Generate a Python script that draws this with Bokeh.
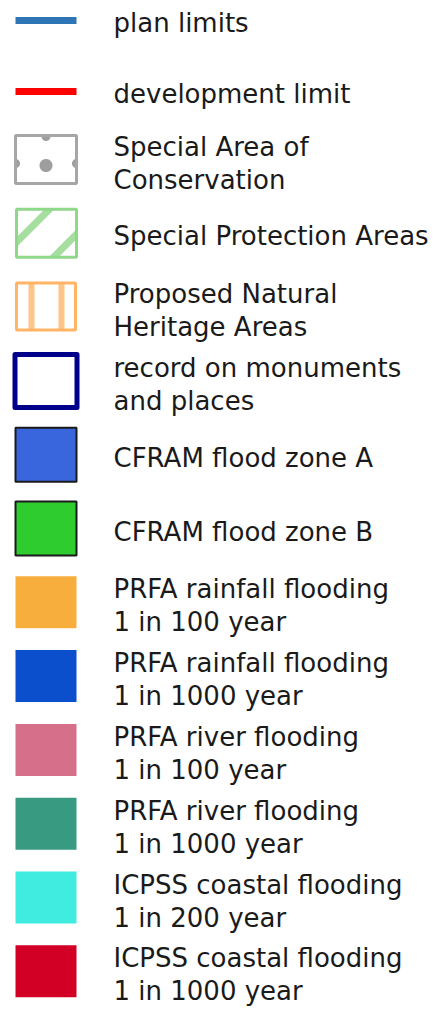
import numpy as np
from bokeh.plotting import figure
from bokeh.models import Range1d
from bokeh.embed import file_html
from bokeh.resources import INLINE
from bokeh.core.properties import value

# ---- legend content ----
labels = [
    ["plan limits"],
    ["development limit"],
    ["Special Area of", "Conservation"],
    ["Special Protection Areas"],
    ["Proposed Natural", "Heritage Areas"],
    ["record on monuments", "and places"],
    ["CFRAM flood zone A"],
    ["CFRAM flood zone B"],
    ["PRFA rainfall flooding", "1 in 100 year"],
    ["PRFA rainfall flooding", "1 in 1000 year"],
    ["PRFA river flooding", "1 in 100 year"],
    ["PRFA river flooding", "1 in 1000 year"],
    ["ICPSS coastal flooding", "1 in 200 year"],
    ["ICPSS coastal flooding", "1 in 1000 year"],
]
kinds = ["line", "line", "sac", "spa", "pnha", "rmp", "outlined", "outlined",
         "fill", "fill", "fill", "fill", "fill", "fill"]
colors = ["#2e75b6", "#ff0000", "#a6a6a6", "#8fd88a", "#ffb466", "#00008b",
          "#3a66dd", "#2ecc2e", "#f8ae3c", "#0b4fcc", "#d6708a", "#389a80",
          "#40ece0", "#d10024"]

# ---- layout ----
W, H = 438, 1011
p = figure(width=W, height=H, output_backend="svg", toolbar_location=None,
           x_range=Range1d(0, W), y_range=Range1d(H, 0),
           min_border=0, background_fill_color="white", border_fill_color="white")
p.axis.visible = False
p.grid.visible = False
p.outline_line_color = None


def row_y(i):
    return 20 + 71 * i if i < 2 else 159 + 73.8 * (i - 2)


def clip(poly, x0, x1, y0, y1):
    def edge(pts, inside, inter):
        out = []
        for k in range(len(pts)):
            cur, prev = pts[k], pts[k - 1]
            if inside(cur):
                if not inside(prev):
                    out.append(inter(prev, cur))
                out.append(cur)
            elif inside(prev):
                out.append(inter(prev, cur))
        return out

    def ix(xc):
        return lambda a, b: (xc, a[1] + (b[1] - a[1]) * (xc - a[0]) / (b[0] - a[0]))

    def iy(yc):
        return lambda a, b: (a[0] + (b[0] - a[0]) * (yc - a[1]) / (b[1] - a[1]), yc)

    pts = list(poly)
    pts = edge(pts, lambda q: q[0] >= x0, ix(x0))
    pts = edge(pts, lambda q: q[0] <= x1, ix(x1))
    pts = edge(pts, lambda q: q[1] >= y0, iy(y0))
    pts = edge(pts, lambda q: q[1] <= y1, iy(y1))
    return pts


def circle_poly(cx, cy, r, n=48):
    t = np.linspace(0, 2 * np.pi, n, endpoint=False)
    return list(zip(cx + r * np.cos(t), cy + r * np.sin(t)))


def draw_poly(pts, color):
    if len(pts) >= 3:
        p.patch([q[0] for q in pts], [q[1] for q in pts], fill_color=color,
                line_color=None)


BX0, BX1 = 15, 76
TEXT_X = 113
LINE_GAP = 33
SHIFT = -10

tx, ty, tt = [], [], []
for i, (lab, kind, col) in enumerate(zip(labels, kinds, colors)):
    c = row_y(i)
    if kind == "line":
        p.line([BX0, BX1], [c, c], line_color=col, line_width=7)
    elif kind == "sac":
        y0, y1 = c - 24, c + 24
        p.quad(left=BX0, right=BX1, top=y0, bottom=y1, fill_color="white", line_color=None)
        mx = (BX0 + BX1) / 2
        for (cx, cy, r) in [(mx, c + 6, 6.5), (mx, y0 + 1, 4.5), (BX0, c + 4, 4.5), (BX1, c + 4, 4.5)]:
            draw_poly(clip(circle_poly(cx, cy, r), BX0, BX1, y0, y1), "#9e9e9e")
        p.quad(left=BX0, right=BX1, top=y0, bottom=y1, fill_color=None,
               line_color=col, line_width=3)
    elif kind == "spa":
        y0, y1 = c - 24, c + 24
        p.quad(left=BX0 + 1, right=BX1, top=y0, bottom=y1, fill_color="white", line_color=None)
        s = BX0 + 1 + y0
        for a, b in [(s + 28, s + 38), (s + 80, s + 90)]:
            band = [(a + 1000, -1000), (a - 2000, 2000), (b - 2000, 2000), (b + 1000, -1000)]
            draw_poly(clip(band, BX0 + 1, BX1, y0, y1), "#a6dea0")
        p.quad(left=BX0 + 1, right=BX1, top=y0, bottom=y1, fill_color=None,
               line_color=col, line_width=3)
    elif kind == "pnha":
        y0, y1 = c - 24, c + 23
        p.quad(left=BX0 + 1, right=BX1 - 1, top=y0, bottom=y1, fill_color="white", line_color=None)
        for a, b in [(12, 18), (42, 48)]:
            p.quad(left=BX0 + 1 + a, right=BX0 + 1 + b, top=y0, bottom=y1,
                   fill_color="#ffc488", line_color=None)
        p.quad(left=BX0 + 1, right=BX1 - 1, top=y0, bottom=y1, fill_color=None,
               line_color=col, line_width=3)
    elif kind == "rmp":
        p.quad(left=14.5, right=76.5, top=c - 26.5, bottom=c + 26.5, fill_color="white",
               line_color=col, line_width=5, line_join="round")
    elif kind == "outlined":
        p.quad(left=BX0, right=BX1, top=c - 27, bottom=c + 27, fill_color=col,
               line_color="#1a1a1a", line_width=2)
    else:
        p.quad(left=BX0, right=BX1, top=c - 26, bottom=c + 26, fill_color=col,
               line_color=None)

    if len(lab) == 1:
        bases = [c + 13 + SHIFT - (1 if kind == "line" else 0)]
    else:
        bases = [c - 3 + SHIFT, c - 3 + LINE_GAP + SHIFT]
    for t, b in zip(lab, bases):
        tx.append(TEXT_X)
        ty.append(b)
        tt.append(t)

p.text(x=tx, y=ty, text=tt, text_font=value("DejaVu Sans"), text_font_size="26px",
       text_color="#1a1a1a", text_baseline="alphabetic", text_align="left")

open("out.html", "w").write(file_html(p, INLINE))
